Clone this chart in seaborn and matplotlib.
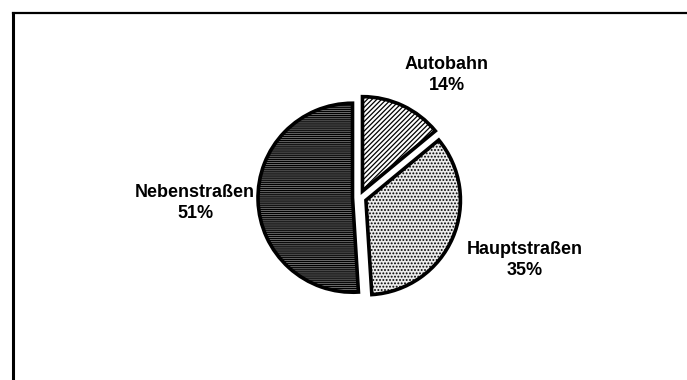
import matplotlib
matplotlib.use("Agg")
import matplotlib.pyplot as plt
import seaborn as sns

# Verkehrsanteile nach Straßenart
categories = ["Autobahn", "Hauptstraßen", "Nebenstraßen"]
shares = [14, 35, 51]

# Füllung je Segment
face_colors = ["#ffffff", "#ececec", "#7c7c7c"]
hatches = ["///////", ".....", "--------"]

# Lage der Beschriftungen (Pixelraster der Achse)
label_xy = [(434, 305), (512, 120), (182, 177)]

sns.set_theme(style="white")
plt.rcParams["font.family"] = ["Liberation Sans", "DejaVu Sans"]
plt.rcParams["hatch.linewidth"] = 0.9

W, H = 687, 380
fig = plt.figure(figsize=(W / 100, H / 100), dpi=100)
left_px, top_px = 13, 13
ax = fig.add_axes([left_px / W, 0, (W - left_px) / W, (H - top_px) / H])

for side in ["right", "bottom"]:
    ax.spines[side].set_visible(False)
ax.spines["top"].set_linewidth(1.6)
ax.spines["left"].set_linewidth(2.2)
for side in ["top", "left"]:
    ax.spines[side].set_color("black")

radius = 94.5
wedges, _ = ax.pie(
    shares,
    center=(346.5, 182.5),
    radius=radius,
    startangle=90,
    counterclock=False,
    explode=[7] * len(shares),
    colors=face_colors,
    wedgeprops=dict(edgecolor="black", linewidth=2.6, joinstyle="miter"),
    frame=True,
)
for w, h in zip(wedges, hatches):
    w.set_hatch(h)

ax.set_xlim(0, W - left_px)
ax.set_ylim(0, H - top_px)
ax.set_aspect("equal")
ax.set_xticks([])
ax.set_yticks([])

for name, val, (x, y) in zip(categories, shares, label_xy):
    ax.text(x, y, f"{name}\n{val}%", ha="center", va="center",
            fontsize=13, fontweight="bold", linespacing=1.35, color="black")

fig.savefig("out.png", dpi=100, facecolor="white")
